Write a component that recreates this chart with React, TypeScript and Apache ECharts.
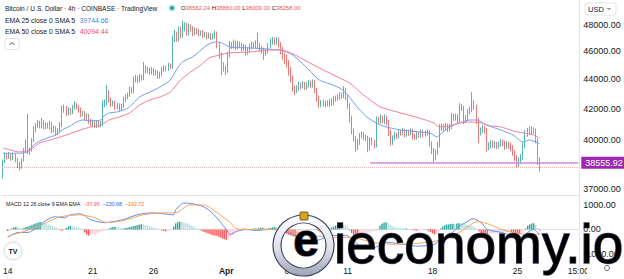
import React, { useEffect, useRef } from "react";
import * as echarts from "echarts";

// ---------- DATA ----------
const FIRST_OPEN = 37700;
const closes = [
  38650, 39030, 38900, 39030, 38840, 39000, 38720, 38410, 38300, 38720, 39340, 39780,
  39220, 39340, 39970, 40610, 40870, 41070, 40870, 41130, 40810, 40930, 40810, 41000,
  40610, 40740, 40420, 40550, 40930, 41920, 42050, 41720, 41920, 41790, 42050, 42250,
  42120, 41920, 41660, 41720, 41390, 41520, 41200, 41070, 41130, 40930, 41070, 40930,
  41000, 42250, 42390, 43060, 42590, 42320, 42390, 42120, 42250, 42050, 42180, 42590,
  42800, 42930, 43270, 43200, 43960, 44100, 43960, 44170, 44100, 44810, 44600, 44670,
  44520, 44670, 44450, 44520, 44240, 44380, 44670, 44810, 44740, 44950, 44880, 46840,
  47220, 46920, 47590, 47220, 47660, 47900, 47390, 47820, 47660, 47390, 47590, 47480,
  47330, 47390, 47220, 47280, 47120, 47220, 47070, 47120, 47330, 46470, 45740, 45020,
  44810, 44670, 45740, 46470, 46400, 46620, 46330, 46540, 46470, 46250, 46330, 45960,
  46110, 46330, 46470, 46400, 46540, 46400, 46250, 46110, 45890, 46030, 46400, 46690,
  46840, 46690, 46840, 46540, 46110, 45740, 45590, 45230, 44670, 44100, 43410, 43270,
  43410, 43620, 43550, 43680, 43480, 43620, 43750, 43620, 43820, 43270, 42730, 42320,
  42450, 42320, 42390, 42320, 42520, 42390, 42660, 42730, 42800, 42930, 42860, 43270,
  42800, 42250, 41390, 40610, 40100, 39530, 39840, 40220, 40290, 40160, 40100, 39470,
  39970, 39840, 39650, 41260, 41200, 41330, 41200, 41390, 41130, 40480, 39840, 40100,
  40290, 40220, 40480, 40420, 40550, 40350, 40480, 40420, 40550, 40220, 40160, 40350,
  40290, 40480, 40350, 40420, 40480, 39780, 39340, 38900, 39220, 39650, 40740, 40810,
  40740, 40870, 40670, 40810, 41460, 41390, 41460, 41260, 42120, 42050, 41260, 41390,
  41790, 41920, 42390, 42120, 41260, 40480, 40610, 40740, 40610, 39530, 39650, 39780,
  39650, 39720, 39590, 39720, 39840, 39780, 39590, 39720, 39650, 39530, 39220, 38900,
  38540, 38720, 38900, 39590, 40350, 40550, 40480, 40610, 40550, 39970, 38562.24, 38258,
];
const wickUp = [
  100, 150, 120, 180, 90, 160, 110, 130, 200, 90, 140, 220,
  1870, 150, 120, 250, 180, 200, 140, 260, 120, 180, 150, 210,
  130, 170, 110, 160, 190, 280, 220, 150, 180, 130, 200, 260,
  150, 120, 170, 140, 110, 180, 130, 120, 160, 100, 150, 130,
  170, 300, 250, 560, 200, 150, 180, 130, 160, 120, 140, 210,
  180, 160, 230, 190, 260, 220, 150, 200, 170, 430, 190, 210,
  160, 200, 140, 180, 130, 170, 220, 200, 160, 230, 180, 320,
  380, 260, 300, 250, 640, 280, 220, 260, 190, 230, 200, 170,
  180, 150, 200, 170, 160, 190, 150, 180, 220, 150, 200, 180,
  200, 160, 250, 300, 220, 260, 180, 240, 200, 160, 210, 150,
  200, 230, 260, 220, 280, 850, 200, 160, 180, 150, 220, 260,
  240, 200, 220, 180, 150, 200, 160, 180, 150, 200, 170, 150,
  180, 220, 160, 200, 150, 180, 220, 160, 190, 150, 140, 170,
  130, 160, 140, 180, 150, 170, 190, 160, 180, 200, 170, 260,
  150, 130, 120, 140, 110, 130, 180, 200, 220, 170, 150, 140,
  190, 160, 150, 240, 220, 300, 200, 250, 160, 130, 150, 170,
  180, 150, 200, 160, 190, 140, 170, 150, 180, 130, 140, 170,
  150, 180, 140, 160, 170, 120, 110, 130, 160, 200, 250, 200,
  180, 210, 160, 190, 250, 200, 220, 180, 260, 200, 150, 180,
  200, 220, 740, 200, 150, 130, 160, 180, 150, 120, 160, 180,
  150, 170, 140, 160, 190, 150, 140, 160, 150, 130, 120, 110,
  130, 160, 180, 220, 250, 200, 320, 220, 180, 150, 100, 317.76,
];
const wickDn = [
  100, 120, 150, 110, 160, 130, 140, 180, 220, 120, 100, 130,
  150, 180, 110, 130, 150, 120, 170, 140, 180, 150, 120, 160,
  200, 150, 180, 140, 130, 150, 180, 200, 160, 190, 140, 120,
  160, 180, 200, 150, 190, 160, 200, 230, 300, 180, 200, 160,
  150, 120, 140, 160, 180, 200, 150, 190, 160, 210, 150, 130,
  140, 160, 130, 180, 150, 170, 200, 160, 180, 150, 190, 170,
  200, 160, 190, 170, 220, 180, 150, 140, 170, 150, 160, 120,
  150, 220, 180, 260, 200, 180, 240, 200, 180, 260, 190, 220,
  200, 180, 230, 190, 210, 180, 220, 200, 180, 250, 300, 710,
  260, 370, 200, 180, 220, 200, 260, 180, 200, 240, 190, 260,
  200, 180, 170, 200, 180, 220, 240, 260, 510, 200, 180, 160,
  190, 220, 180, 240, 300, 350, 500, 380, 400, 300, 260, 340,
  200, 180, 220, 170, 200, 180, 160, 200, 180, 220, 260, 240,
  200, 180, 220, 160, 190, 200, 170, 180, 150, 190, 200, 160,
  220, 260, 300, 280, 240, 310, 200, 180, 160, 200, 220, 270,
  180, 200, 220, 150, 170, 190, 160, 200, 220, 260, 240, 180,
  160, 200, 150, 180, 160, 200, 170, 190, 160, 210, 180, 160,
  190, 170, 200, 160, 180, 220, 260, 300, 200, 180, 160, 200,
  180, 160, 210, 170, 150, 190, 170, 210, 160, 200, 260, 180,
  170, 160, 150, 200, 260, 700, 220, 200, 240, 280, 200, 220,
  180, 200, 190, 160, 180, 200, 240, 190, 220, 260, 240, 260,
  310, 220, 200, 160, 140, 180, 200, 160, 180, 200, 150, 249,
];
// EMA points: [candle index, price]
const ema25 = [
  [0, 39140], [8, 39140], [12, 39220], [15, 39650], [18, 39900], [23, 40160], [26, 40290],
  [29, 40610], [33, 40870], [36, 41130], [39, 41260], [43, 41200], [48, 41260], [49, 41460],
  [52, 41720], [56, 41790], [59, 41920], [62, 42120], [67, 42800], [72, 43130], [77, 43480],
  [82, 43960], [85, 44670], [88, 45240], [93, 45600], [100, 46470], [104, 46690], [106, 46690],
  [111, 46330], [122, 46250], [135, 46110], [139, 45960], [142, 45740], [146, 45240],
  [150, 44670], [155, 43960], [159, 43750], [165, 43410], [169, 42930], [174, 42050],
  [179, 41390], [185, 40930], [190, 40740], [195, 40610], [204, 40480], [209, 40420],
  [213, 40160], [214, 40290], [219, 40810], [224, 41070], [229, 41260], [232, 41260],
  [237, 40930], [244, 40610], [250, 40290], [255, 39840], [258, 39970], [263, 39744.66],
];
const ema50 = [
  [0, 39470], [8, 39220], [13, 39340], [18, 39780], [23, 39970], [28, 40160], [38, 40610],
  [43, 40810], [48, 40930], [52, 41260], [57, 41460], [62, 41720], [67, 42250], [72, 42590],
  [77, 42800], [82, 43130], [87, 43960], [92, 44520], [97, 45020], [101, 45520], [106, 45740],
  [111, 45890], [121, 45960], [131, 46110], [136, 46110], [141, 45890], [146, 45520],
  [155, 44810], [165, 44100], [170, 43750], [175, 43130], [180, 42590], [185, 42120],
  [195, 41720], [204, 41390], [211, 41070], [214, 40810], [219, 40870], [224, 41070],
  [229, 41130], [234, 41070], [239, 40870], [244, 40810], [250, 40550], [255, 40420],
  [260, 40290], [263, 40094.44],
];
const macdHist = [
  -60, -40, 40, 80, 100, 80, 60, 40, 60, 100, 120, 150, 180, 220,
  260, 290, 310, 300, 280, 240, 200, 170, 140, 110, 80, 40, -30, -50, -20,
  60, 120, 150, 130, 110, 90, 70, 50, 30,
  -120, -200, -250, -240, -210, -180, -150, -120, -90, -60, -40, -20, 30, 80, 100, 110,
  90, 80, 70, 60, 60, 70, 90, 110, 130, 150, 170, 190, 210, 200, 180, 170, 150,
  120, 90, 60, 40, 20, -30, -60, -80, -70, -50, -30,
  120, 250, 300, 320, 310, 290, 270, 230, 190, 150, 110, 70,
  30, -20, -60, -100, -130, -160, -190, -220, -240, -260, -290, -330,
  -370, -400, -420, -380, -320, -250, -180, -120,
  -70, -30, 20, 40, 30, 10, -20, 30, 50, 40,
  60, 70, 80, 60, 40, 50, 70, 90, 100, 90, 60, 20,
  -60, -120, -180, -220, -250, -280, -300, -290, -260, -230, -200,
  -170, -140, -100, -60, -30, -10, -40, -80, -120, -100, -60, -20, 30, 80, 120,
  160, 190, 210, 200, 180, 160, 120, -40, -150, -250, -320, -350, -330, -290,
  -240, -190, -150, -110, -80, -60, -40, 20, 150, 230, 280, 300, 260, 200,
  140, 100, 80, 70, 60, 50, 40, 40, 30, 20, -20, -40, -50, -40, -30,
  -20, 10, 20, -60, -110, -160, -200, -180, -120,
  40, 120, 170, 200, 210, 220, 230, 220, 240, 260, 250, 240, 220, 200,
  180, 160, 130, 80, 30, -80, -140, -170, -190, -210,
  -200, -190, -170, -150, -140, -130, -120, -110, -100, -90, -90, -100, -120, -150, -180, -200,
  -150, -60, 40, 150, 210, 240, 250, 180, 60, -37.96,
];
const macdLine = [
  [0, -320], [5, -120], [10, -120], [15, 120], [18, 320], [23, 520], [28, 480], [31, 600],
  [36, 640], [41, 400], [48, 280], [52, 320], [57, 400], [64, 600], [71, 680], [77, 640],
  [82, 600], [83, 800], [87, 1080], [92, 1040], [97, 920], [101, 680], [105, 320], [108, 0],
  [110, -200], [113, -80], [118, 0], [123, -40], [129, 0], [134, 0], [139, -120], [146, -400],
  [153, -440], [160, -240], [167, -240], [173, -600], [176, -800], [182, -720], [187, -520],
  [195, -600], [203, -680], [211, -600], [214, -400], [218, -240], [223, 120], [227, 320],
  [230, 440], [234, 280], [237, 0], [244, -120], [250, -280], [253, -400], [257, -120],
  [260, 0], [263, -230.68],
];
const macdSignal = [
  [0, -280], [8, -80], [15, 120], [20, 320], [26, 520], [36, 600], [43, 480], [49, 280],
  [57, 360], [67, 600], [77, 680], [83, 680], [90, 1000], [97, 1000], [103, 720], [110, 280],
  [113, 40], [120, 0], [131, 0], [141, -80], [150, -240], [160, -320], [170, -320],
  [180, -520], [190, -600], [203, -560], [211, -480], [218, -320], [224, -80], [232, 320],
  [237, 240], [244, 0], [250, -120], [257, -200], [263, -192.72],
];
const priceTicks = [37000, 40000, 42000, 44000, 46000, 48000];
const macdTicks = [-1000, 0, 1000];
const xTickCats = [
  "2022-03-14 00:00", "2022-03-21 00:00", "2022-03-26 00:00", "2022-04-01 00:00",
  "2022-04-06 00:00", "2022-04-11 00:00", "2022-04-18 00:00", "2022-04-25 00:00",
  "2022-04-30 00:00",
];
const xTickLabels = ["14", "21", "26", "Apr", "6", "11", "18", "25", "15:00"];
const levelPrice = 38555.92;
const lastClose = 38258;
const SLOT_COUNT = 283;

// ---------- BUILD ----------
const pad = (n: number) => String(n).padStart(2, "0");
const START = Date.UTC(2022, 2, 14, 0, 0);
const categories = Array.from({ length: SLOT_COUNT }, (_, i) => {
  const d = new Date(START + i * 4 * 3600 * 1000);
  return `${d.getUTCFullYear()}-${pad(d.getUTCMonth() + 1)}-${pad(d.getUTCDate())} ${pad(d.getUTCHours())}:00`;
});
const tickMap = new Map<string, string>();
xTickCats.forEach((c, i) => tickMap.set(c, xTickLabels[i]));

const candleData = closes.map((c, i) => {
  const o = i === 0 ? FIRST_OPEN : closes[i - 1];
  return [o, c, Math.min(o, c) - wickDn[i], Math.max(o, c) + wickUp[i]];
});

const FONT = "Liberation Sans";
const UP = "#26a69a";
const DOWN = "#ef5350";

export default function App() {
  const ref = useRef<HTMLDivElement>(null);
  useEffect(() => {
    if (!ref.current) return;
    const chart = echarts.init(ref.current, undefined, { renderer: "svg" });
    const silver = new echarts.graphic.LinearGradient(0, 0, 0, 1, [
      { offset: 0, color: "#ffffff" },
      { offset: 0.55, color: "#dfe1e8" },
      { offset: 1, color: "#9ea3b5" },
    ]);
    const legendRich = (valueColor: string, size: number) => ({
      l: { fill: "#131722", fontSize: size, fontFamily: FONT },
      v: { fill: valueColor, fontSize: size, fontFamily: FONT },
    });
    const option: any = {
      animation: false,
      backgroundColor: "#ffffff",
      textStyle: { fontFamily: FONT },
      grid: [
        { left: 2, top: 0, width: 577.3, height: 195 },
        { left: 2, top: 196, width: 577.3, height: 63 },
      ],
      xAxis: [
        {
          type: "category", gridIndex: 0, data: categories,
          axisLine: { show: true, lineStyle: { color: "#e0e3eb" } },
          axisTick: { show: false }, axisLabel: { show: false }, splitLine: { show: false },
        },
        {
          type: "category", gridIndex: 1, data: categories,
          axisLine: { show: true, lineStyle: { color: "#e0e3eb" } },
          axisTick: { show: false }, splitLine: { show: false },
          axisLabel: {
            interval: (_i: number, v: string) => tickMap.has(v),
            formatter: (v: string) => {
              const t = tickMap.get(v) ?? "";
              return t === "Apr" ? `{b|${t}}` : t;
            },
            alignMinLabel: "center", alignMaxLabel: "center",
            rich: { b: { fontWeight: "bold", fontSize: 8.5, color: "#131722", fontFamily: FONT } },
            color: "#131722", fontSize: 8.5, margin: 7, fontFamily: FONT,
          },
        },
      ],
      yAxis: [
        {
          type: "log", gridIndex: 0, position: "right", min: 36628, max: 49913,
          axisLine: { show: true, lineStyle: { color: "#e0e3eb" } },
          axisTick: { show: false }, splitLine: { show: false },
          axisLabel: {
            customValues: priceTicks, formatter: (v: number) => v.toFixed(2),
            color: "#131722", fontSize: 9, margin: 4, fontFamily: FONT,
          },
        },
        {
          type: "value", gridIndex: 1, position: "right", min: -1204, max: 1367,
          axisLine: { show: true, lineStyle: { color: "#e0e3eb" } },
          axisTick: { show: false }, splitLine: { show: false },
          axisLabel: {
            customValues: macdTicks, formatter: (v: number) => v.toFixed(2),
            color: "#131722", fontSize: 9, margin: 4, fontFamily: FONT,
          },
        },
      ],
      series: [
        {
          type: "candlestick", xAxisIndex: 0, yAxisIndex: 0, data: candleData,
          barWidth: 1.3,
          itemStyle: { color: UP, color0: DOWN, borderColor: UP, borderColor0: DOWN, borderWidth: 0.8 },
          markLine: {
            symbol: ["none", "none"], silent: true, animation: false,
            data: [
              [
                { coord: [categories[180], levelPrice], lineStyle: { color: "#c88fdc", width: 1.5, type: "solid" } },
                {
                  coord: [categories[SLOT_COUNT - 1], levelPrice],
                  label: {
                    show: true, position: "end", formatter: levelPrice.toFixed(2), distance: 3,
                    color: "#ffffff", backgroundColor: "#9c27b0", padding: [2, 4, 1, 4],
                    fontSize: 9, fontFamily: FONT,
                  },
                },
              ],
              { yAxis: lastClose, lineStyle: { color: "#f8b4b4", width: 1, type: "dotted" }, label: { show: false } },
            ],
          },
        },
        {
          type: "line", xAxisIndex: 0, yAxisIndex: 0, data: ema25, showSymbol: false, smooth: 0.25,
          lineStyle: { color: "#6f9cf6", width: 1 }, z: 3,
        },
        {
          type: "line", xAxisIndex: 0, yAxisIndex: 0, data: ema50, showSymbol: false, smooth: 0.25,
          lineStyle: { color: "#f27f94", width: 1 }, z: 3,
        },
        {
          type: "bar", xAxisIndex: 1, yAxisIndex: 1, data: macdHist, barWidth: 1.4,
          itemStyle: {
            color: (p: any) => {
              const v = macdHist[p.dataIndex];
              const prev = p.dataIndex > 0 ? macdHist[p.dataIndex - 1] : 0;
              if (v >= 0) return v >= prev ? "#26a69a" : "#b2dfdb";
              return v < prev ? "#ff5252" : "#ffcdd2";
            },
          },
        },
        {
          type: "line", xAxisIndex: 1, yAxisIndex: 1, data: macdLine, showSymbol: false, smooth: 0.25,
          lineStyle: { color: "#5d8ef5", width: 1 }, z: 3,
        },
        {
          type: "line", xAxisIndex: 1, yAxisIndex: 1, data: macdSignal, showSymbol: false, smooth: 0.25,
          lineStyle: { color: "#f9a25e", width: 1 }, z: 3,
        },
      ],
      graphic: [
        { type: "text", x: 5, y: 8, z: 50, style: { text: "Bitcoin / U.S. Dollar · 4h · COINBASE · TradingView", fill: "#131722", fontSize: 6.6, fontFamily: FONT, verticalAlign: "middle" } },
        { type: "circle", z: 50, shape: { cx: 172, cy: 8, r: 3.8 }, style: { fill: "rgba(38,166,154,0.25)" } },
        { type: "circle", z: 51, shape: { cx: 172, cy: 8, r: 2 }, style: { fill: UP } },
        {
          type: "text", x: 181, y: 8, z: 50,
          style: {
            text: "{l|O}{v|38562.24} {l|H}{v|38880.00} {l|L}{v|38009.00} {l|C}{v|38258.00}",
            fontSize: 5.9, fontFamily: FONT, verticalAlign: "middle",
            rich: legendRich(DOWN, 5.9),
          },
        },
        {
          type: "text", x: 5, y: 20, z: 50,
          style: {
            text: "{l|EMA 25 close 0 SMA 5}  {v|39744.66}", fontSize: 6.9, fontFamily: FONT, verticalAlign: "middle",
            rich: legendRich("#4f7ff0", 6.9),
          },
        },
        {
          type: "text", x: 5, y: 31, z: 50,
          style: {
            text: "{l|EMA 50 close 0 SMA 5}  {v|40094.44}", fontSize: 6.9, fontFamily: FONT, verticalAlign: "middle",
            rich: legendRich("#f0506e", 6.9),
          },
        },
        { type: "rect", z: 50, shape: { x: 5, y: 38.5, width: 14, height: 11, r: 2 }, style: { fill: "#ffffff", stroke: "#e0e3eb", lineWidth: 1 } },
        { type: "polyline", z: 51, shape: { points: [[9.5, 45], [12, 42.5], [14.5, 45]] }, style: { stroke: "#131722", lineWidth: 0.8, fill: null } },
        {
          type: "text", x: 6, y: 204, z: 50,
          style: {
            text: "{l|MACD 12 26 close 9 EMA EMA}  {r|−37.96}  {b|−230.68}  {o|−192.72}", fontSize: 5.3, fontFamily: FONT, verticalAlign: "middle",
            rich: {
              l: { fill: "#131722", fontSize: 5.3, fontFamily: FONT },
              r: { fill: "#ff5252", fontSize: 5.3, fontFamily: FONT },
              b: { fill: "#2962ff", fontSize: 5.3, fontFamily: FONT },
              o: { fill: "#ff6d00", fontSize: 5.3, fontFamily: FONT },
            },
          },
        },
        { type: "rect", z: 50, shape: { x: 585, y: 3, width: 31, height: 12, r: 2 }, style: { fill: "#ffffff", stroke: "#e0e3eb", lineWidth: 1 } },
        { type: "text", x: 588, y: 9, z: 51, style: { text: "USD", fill: "#131722", fontSize: 7.5, fontFamily: FONT, verticalAlign: "middle" } },
        { type: "polyline", z: 51, shape: { points: [[607.5, 8], [609, 9.5], [610.5, 8]] }, style: { stroke: "#131722", lineWidth: 0.8, fill: null } },
        { type: "circle", z: 50, shape: { cx: 13, cy: 251, r: 8.5 }, style: { fill: "#ffffff", stroke: "#e0e3eb", lineWidth: 1, shadowBlur: 3, shadowColor: "rgba(0,0,0,0.15)" } },
        { type: "text", x: 13, y: 251, z: 51, style: { text: "TV", fill: "#131722", fontSize: 7, fontWeight: "bold", fontFamily: FONT, align: "center", verticalAlign: "middle" } },
        { type: "rect", z: 60, shape: { x: 587, y: 261, width: 37, height: 18 }, style: { fill: "#ffffff" } },
        { type: "line", z: 61, shape: { x1: 579.3, y1: 259, x2: 579.3, y2: 279 }, style: { stroke: "#e0e3eb", lineWidth: 1 } },
        { type: "circle", z: 61, shape: { cx: 607, cy: 268, r: 2.5 }, style: { fill: "none", stroke: "#50535e", lineWidth: 0.9 } },
        // watermark
        { type: "ring", z: 90, shape: { cx: 303.5, cy: 245.5, r: 30.5, r0: 22.5 }, style: { fill: silver, stroke: "#3d4462", lineWidth: 1.2 } },
        { type: "rect", z: 91, shape: { x: 300, y: 212, width: 8, height: 8, r: 1 }, style: { fill: "#d9a521", stroke: "#5b4300", lineWidth: 0.8 } },
        { type: "text", x: 306, y: 240, z: 91, style: { text: "e", fill: silver, stroke: "#3d4462", lineWidth: 1.2, fontSize: 46, fontWeight: "bold", fontFamily: FONT, align: "center", verticalAlign: "middle" } },
        { type: "text", x: 334, y: 244, z: 90, style: { text: "ieconomy.io", fill: silver, stroke: "#3d4462", lineWidth: 1.3, fontSize: 55, fontFamily: FONT, verticalAlign: "middle" } },
      ],
    };
    chart.setOption(option);
    return () => chart.dispose();
  }, []);
  return (
    <div
      ref={ref}
      style={{ position: "fixed", left: 0, top: 0, width: 624, height: 279, background: "#ffffff" }}
    />
  );
}
